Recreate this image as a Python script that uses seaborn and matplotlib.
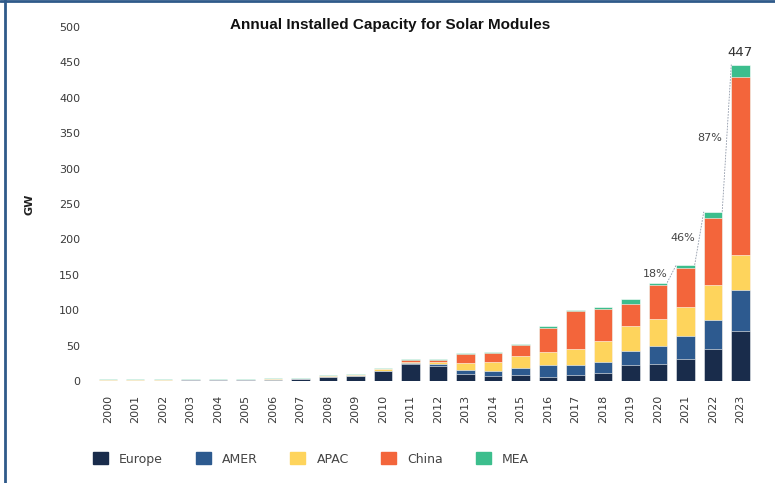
import numpy as np
import pandas as pd
import matplotlib
matplotlib.use("Agg")
import matplotlib.pyplot as plt
from matplotlib.patches import Patch
from matplotlib.lines import Line2D
import seaborn as sns

# values (GW)
years = [str(y) for y in range(2000, 2024)]
europe = [0.2, 0.2, 0.3, 1.4, 1.4, 1.5, 1.6, 2.6, 5.5, 7.0, 13.5, 23.5,
          20.8, 10.0, 6.5, 9.0, 6.0, 8.5, 11.0, 22.0, 24.0, 31.0, 45.0, 70.0]
amer = [0.1, 0.1, 0.1, 0.1, 0.1, 0.1, 0.2, 0.2, 0.5, 0.7, 1.0, 2.0,
        2.8, 5.0, 7.0, 9.0, 16.0, 13.7, 16.0, 21.0, 26.0, 33.0, 41.0, 58.0]
apac = [1.1, 1.1, 1.1, 0.2, 0.2, 0.2, 0.9, 0.3, 0.5, 0.5, 2.0, 1.5,
        2.8, 11.0, 14.0, 18.0, 18.5, 23.4, 29.0, 35.0, 37.0, 40.0, 50.0, 50.0]
china = [0.0, 0.0, 0.0, 0.0, 0.0, 0.0, 0.1, 0.1, 0.3, 0.4, 0.6, 3.0,
         3.3, 12.0, 11.5, 15.0, 34.5, 52.8, 45.0, 31.0, 48.0, 55.0, 94.0, 252.0]
mea = [1.5, 1.5, 1.5, 1.3, 1.3, 1.3, 1.3, 0.8, 1.0, 0.8, 1.0, 1.0,
       1.0, 1.3, 1.5, 1.5, 2.0, 1.5, 3.0, 6.5, 4.0, 5.0, 9.0, 17.0]
regions = ["Europe", "AMER", "APAC", "China", "MEA"]
colors = ["#192c4b", "#2d5a8f", "#fed45c", "#f3653b", "#3cbe8d"]
growth_years = ["2020", "2021", "2022", "2023"]

df = pd.DataFrame({"year": years, "Europe": europe, "AMER": amer,
                   "APAC": apac, "China": china, "MEA": mea})
cum = df[regions].cumsum(axis=1)
df["total"] = cum["MEA"]

sns.set_style("white")
plt.rcParams["font.family"] = ["DejaVu Sans"]

fig = plt.figure(figsize=(7.75, 4.83), dpi=100)
ax = fig.add_axes([94 / 775, 1 - 381 / 483, 663 / 775, 354 / 483])

bw = 0.67
# layered cumulative bars, top segment drawn first
for reg, col in zip(regions[::-1], colors[::-1]):
    sns.barplot(x=df["year"], y=cum[reg], color=col, width=bw, ax=ax,
                edgecolor="white", linewidth=0.4, saturation=1, zorder=2)

ax.axhline(-1.2, color="#c6cbd4", lw=2, zorder=1)
ax.set_xlim(-0.5, 23.6)
ax.set_ylim(0, 500)
ax.set_yticks(np.arange(0, 501, 50))
sns.despine(ax=ax, left=True, bottom=True)
ax.tick_params(axis="both", length=0, labelsize=8, labelcolor="#3a3a3a", pad=10)
ax.tick_params(axis="x", rotation=90)
ax.set_xlabel("")
ax.set_ylabel("GW", fontsize=8, fontweight="bold", color="#222222")
ax.yaxis.set_label_coords(-0.089, 0.5)

# total on the last bar
ax.annotate(f"{df['total'].iloc[-1]:.0f}", (23, df["total"].iloc[-1]),
            xytext=(0, 4), textcoords="offset points", ha="center",
            va="bottom", fontsize=9.5, color="#333333")

# growth connectors
for a, b in zip(growth_years[:-1], growth_years[1:]):
    i, j = years.index(a), years.index(b)
    t0, t1 = df["total"].iloc[i], df["total"].iloc[j]
    ax.plot([i + bw / 2, j - bw / 2], [t0, t1], color="#8f98a8", lw=0.6,
            ls=(0, (2, 1.5)))
    ax.annotate(f"{(t1 / t0 - 1) * 100:.0f}%", ((i + j) / 2, (t0 + t1) / 2),
                xytext=(-3, 0), textcoords="offset points", ha="right",
                va="center", fontsize=8, color="#444444")

fig.text(390 / 775, 1 - 25 / 483, "Annual Installed Capacity for Solar Modules",
         ha="center", va="center", fontsize=11, fontweight="bold",
         family=["Liberation Sans Narrow", "Liberation Sans"], color="#111111")

handles = [Patch(facecolor=c, edgecolor=c, lw=1, joinstyle="round", label=r)
           for r, c in zip(regions, colors)]
fig.legend(handles=handles, loc="center left", ncol=5, frameon=False,
           bbox_to_anchor=(88 / 775, 1 - 459 / 483), fontsize=9,
           handlelength=1.2, handleheight=1.05, handletextpad=0.9,
           columnspacing=2.6, labelcolor="#444444", borderaxespad=0)

# blue frame on the left and top edges
fig.add_artist(Line2D([4.5 / 775, 4.5 / 775], [0, 1], color="#2f5a8a", lw=2,
                      transform=fig.transFigure))
fig.add_artist(Line2D([0, 1], [1 - 0.8 / 483, 1 - 0.8 / 483], color="#2f5a8a",
                      lw=2, transform=fig.transFigure))

fig.savefig("out.png", dpi=100)
